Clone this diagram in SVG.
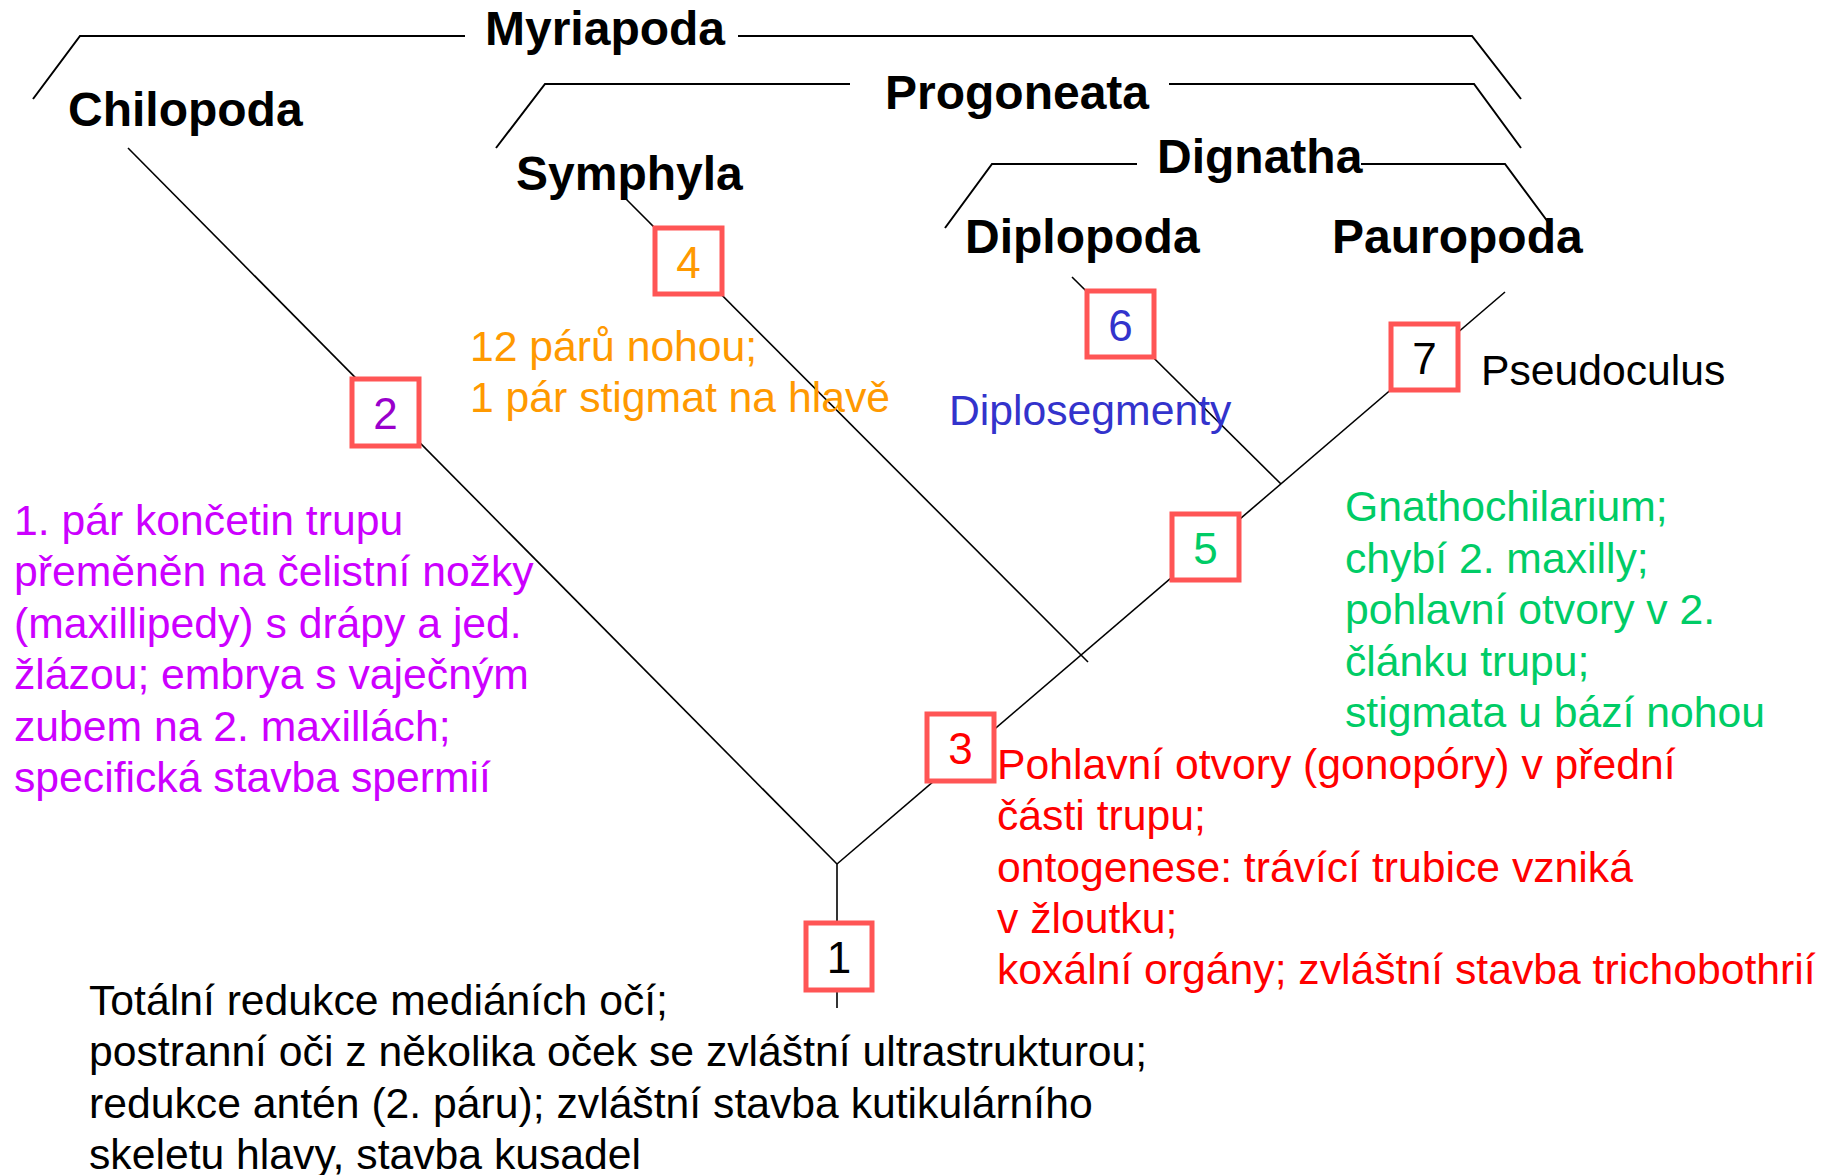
<svg xmlns="http://www.w3.org/2000/svg" width="1832" height="1175" viewBox="0 0 1832 1175">
<style>
.bg{fill:#fff}
.br{fill:none;stroke:#000;stroke-width:2}
.ln{fill:none;stroke:#000;stroke-width:1.6}
.box{fill:#fff;stroke:#FF5555;stroke-width:5}
.tx{font-family:"Liberation Sans",Arial,sans-serif;font-size:42.7px}
.tb{font-family:"Liberation Sans",Arial,sans-serif;font-size:48px;font-weight:bold;fill:#000}
.num{font-family:"Liberation Sans",Arial,sans-serif;font-size:44px;text-anchor:middle}
</style>
<rect class="bg" x="0" y="0" width="1832" height="1175"/>
<g id="brackets">
<polyline class="br" points="33,99 80,36 465,36"/>
<polyline class="br" points="738,36 1472,36 1521,99"/>
<polyline class="br" points="496,148 545,84 850,84"/>
<polyline class="br" points="1169,84 1474,84 1521,148"/>
<polyline class="br" points="945,228 992,164 1137,164"/>
<polyline class="br" points="1361,164 1505,164 1548,222"/>
</g>
<g id="connectors">
<line class="ln" x1="128" y1="148" x2="837" y2="864"/>
<line class="ln" x1="837" y1="864" x2="837" y2="1008"/>
<line class="ln" x1="837" y1="864" x2="1505" y2="292"/>
<line class="ln" x1="625" y1="198" x2="1088" y2="662"/>
<line class="ln" x1="1072" y1="277" x2="1281" y2="484"/>
</g>
<g id="labels">
<text class="tb" x="485" y="45">Myriapoda</text>
<text class="tb" x="885" y="109">Progoneata</text>
<text class="tb" x="1157" y="173">Dignatha</text>
<text class="tb" x="68" y="126">Chilopoda</text>
<text class="tb" x="516" y="190">Symphyla</text>
<text class="tb" x="965" y="253">Diplopoda</text>
<text class="tb" x="1332" y="253">Pauropoda</text>
</g>
<g id="node1"><rect class="box" x="806" y="923" width="66" height="67"/><text class="num" x="839" y="973" fill="#000">1</text></g>
<g id="node2"><rect class="box" x="352" y="379" width="67" height="67"/><text class="num" x="385.5" y="429" fill="#9900CC">2</text></g>
<g id="node3"><rect class="box" x="927" y="714" width="67" height="67"/><text class="num" x="960.5" y="764" fill="#FF0000">3</text></g>
<g id="node4"><rect class="box" x="655" y="228" width="67" height="66"/><text class="num" x="688.5" y="278" fill="#FF9900">4</text></g>
<g id="node5"><rect class="box" x="1172" y="514" width="67" height="66"/><text class="num" x="1205.5" y="564" fill="#00CC66">5</text></g>
<g id="node6"><rect class="box" x="1087" y="291" width="67" height="66"/><text class="num" x="1120.5" y="341" fill="#3333CC">6</text></g>
<g id="node7"><rect class="box" x="1391" y="324" width="67" height="66"/><text class="num" x="1424.5" y="374" fill="#000">7</text></g>
<g id="text-orange" class="tx" fill="#FF9900">
<text x="470" y="361">12 párů nohou;</text>
<text x="470" y="412">1 pár stigmat na hlavě</text>
</g>
<g id="text-purple" class="tx" fill="#CC00FF">
<text x="14" y="535">1. pár končetin trupu</text>
<text x="14" y="586">přeměněn na čelistní nožky</text>
<text x="14" y="638">(maxillipedy) s drápy a jed.</text>
<text x="14" y="689">žlázou; embrya s vaječným</text>
<text x="14" y="741">zubem na 2. maxillách;</text>
<text x="14" y="792">specifická stavba spermií</text>
</g>
<g id="text-blue" class="tx" fill="#3333CC">
<text x="949" y="425">Diplosegmenty</text>
</g>
<g id="text-pseudo" class="tx" fill="#000">
<text x="1481" y="385">Pseudoculus</text>
</g>
<g id="text-green" class="tx" fill="#00CC66">
<text x="1345" y="521">Gnathochilarium;</text>
<text x="1345" y="573">chybí 2. maxilly;</text>
<text x="1345" y="624">pohlavní otvory v 2.</text>
<text x="1345" y="676">článku trupu;</text>
<text x="1345" y="727">stigmata u bází nohou</text>
</g>
<g id="text-red" class="tx" fill="#FF0000">
<text x="997" y="779">Pohlavní otvory (gonopóry) v přední</text>
<text x="997" y="830">části trupu;</text>
<text x="997" y="882">ontogenese: trávící trubice vzniká</text>
<text x="997" y="933">v žloutku;</text>
<text x="997" y="984">koxální orgány; zvláštní stavba trichobothrií</text>
</g>
<g id="text-black" class="tx" fill="#000">
<text x="89" y="1015">Totální redukce mediáních očí;</text>
<text x="89" y="1066">postranní oči z několika oček se zvláštní ultrastrukturou;</text>
<text x="89" y="1118">redukce antén (2. páru); zvláštní stavba kutikulárního</text>
<text x="89" y="1169">skeletu hlavy, stavba kusadel</text>
</g>
</svg>
